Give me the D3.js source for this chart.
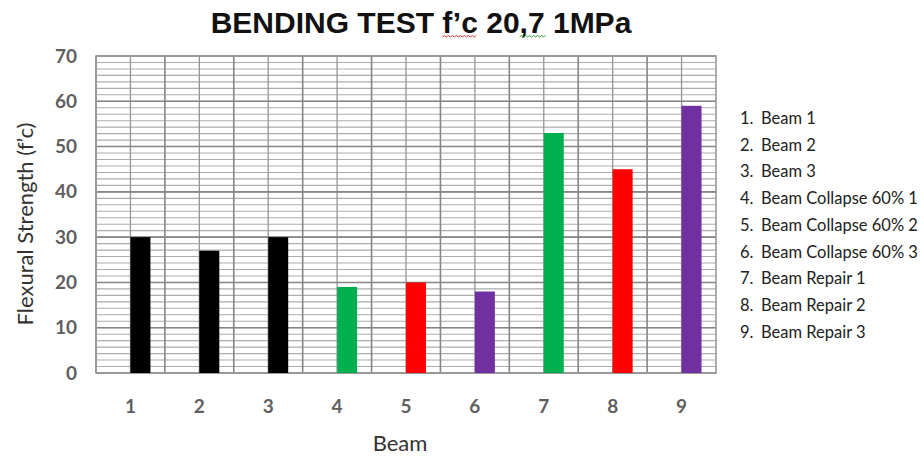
<!DOCTYPE html>
<html>
<head>
<meta charset="utf-8">
<script src="https://cdn.jsdelivr.net/npm/d3@7"></script>
<style>
  body { margin: 0; background: #fff; }
  svg { display: block; }
</style>
</head>
<body>
<svg id="chart" width="923" height="456"></svg>
<script>
// Beam numbers, flexural strength readings and bar colours
const beams = ["1", "2", "3", "4", "5", "6", "7", "8", "9"];
const strength = [30, 27, 30, 19, 20, 18, 53, 45, 59];
const barColors = ["#000000", "#000000", "#000000", "#00b050", "#ff0000", "#7030a0", "#00b050", "#ff0000", "#7030a0"];
const yTicks = [0, 10, 20, 30, 40, 50, 60, 70];
const legendItems = [
  "Beam 1", "Beam 2", "Beam 3",
  "Beam Collapse 60% 1", "Beam Collapse 60% 2", "Beam Collapse 60% 3",
  "Beam Repair 1", "Beam Repair 2", "Beam Repair 3"
];

const svg = d3.select("#chart");
const plot = { left: 96, right: 716, top: 56, bottom: 373 };

const x = d3.scaleBand().domain(beams).range([plot.left, plot.right]).padding(0);
const y = d3.scaleLinear().domain([0, 70]).range([plot.bottom, plot.top]);

// Minor horizontal grid (7 steps per major division)
const minor = d3.range(0, 70.0001, 10 / 7);
svg.append("g").selectAll("line").data(minor).join("line")
  .attr("x1", plot.left).attr("x2", plot.right)
  .attr("y1", d => y(d)).attr("y2", d => y(d))
  .attr("stroke", "#acacac").attr("stroke-width", 1.1);

// Vertical grid: category centres and category boundaries
svg.append("g").selectAll("line").data(beams).join("line")
  .attr("x1", d => x(d) + x.bandwidth() / 2).attr("x2", d => x(d) + x.bandwidth() / 2)
  .attr("y1", plot.top).attr("y2", plot.bottom)
  .attr("stroke", "#949494").attr("stroke-width", 1.3);
svg.append("g").selectAll("line").data(beams).join("line")
  .attr("x1", d => x(d)).attr("x2", d => x(d))
  .attr("y1", plot.top).attr("y2", plot.bottom)
  .attr("stroke", "#858585").attr("stroke-width", 1.6);

// Major horizontal grid
svg.append("g").selectAll("line").data(yTicks).join("line")
  .attr("x1", plot.left).attr("x2", plot.right)
  .attr("y1", d => y(d)).attr("y2", d => y(d))
  .attr("stroke", "#858585").attr("stroke-width", 1.6);

// Plot frame
svg.append("rect")
  .attr("x", plot.left).attr("y", plot.top)
  .attr("width", plot.right - plot.left).attr("height", plot.bottom - plot.top)
  .attr("fill", "none").attr("stroke", "#999").attr("stroke-width", 1.6);

// Bars
const barW = x.bandwidth() * 0.29;
svg.append("g").selectAll("rect").data(beams).join("rect")
  .attr("x", d => x(d) + x.bandwidth() / 2)
  .attr("y", (d, i) => y(strength[i]))
  .attr("width", barW)
  .attr("height", (d, i) => y(0) - y(strength[i]))
  .attr("fill", (d, i) => barColors[i]);

// Y axis
const yAxis = svg.append("g")
  .attr("transform", `translate(${plot.left - 19},0)`)
  .call(d3.axisLeft(y).tickValues(yTicks).tickSize(0).tickPadding(0));
yAxis.select(".domain").remove();
yAxis.selectAll("text")
  .attr("font-family", "Lato, 'Open Sans', sans-serif")
  .attr("font-size", 19).attr("font-weight", 700).attr("fill", "#5f5f5f");

// X axis
const xAxis = svg.append("g")
  .attr("transform", `translate(0,${plot.bottom + 26})`)
  .call(d3.axisBottom(x).tickSize(0).tickPadding(0));
xAxis.select(".domain").remove();
xAxis.selectAll("text")
  .attr("font-family", "Lato, 'Open Sans', sans-serif")
  .attr("font-size", 19).attr("font-weight", 700).attr("fill", "#5f5f5f");

// Squiggle helper for underlined words
function squiggle(x0, x1, yy, color) {
  let p = `M${x0},${yy}`;
  let up = true;
  for (let xx = x0 + 2; xx <= x1; xx += 2) {
    p += `L${xx},${yy + (up ? -1.5 : 0)}`;
    up = !up;
  }
  svg.append("path").attr("d", p).attr("fill", "none")
    .attr("stroke", color).attr("stroke-width", 1);
}

// Title
const titleText = "BENDING TEST f\u2019c 20,7 1MPa";
const title = svg.append("text")
  .attr("x", 421).attr("y", 33)
  .attr("text-anchor", "middle")
  .attr("font-family", "'Liberation Sans', Arial, sans-serif")
  .attr("font-size", 30).attr("font-weight", 700).attr("fill", "#111")
  .text(titleText);
{
  const node = title.node();
  const bb = node.getBBox();
  const i1 = titleText.indexOf("f\u2019c");
  const a = node.getSubStringLength(0, i1);
  const b = node.getSubStringLength(i1, 3);
  squiggle(bb.x + a, bb.x + a + b, 37, "#e03030");
  const i2 = titleText.indexOf(",7");
  const c = node.getSubStringLength(0, i2);
  const dlen = node.getSubStringLength(i2, 2);
  squiggle(bb.x + c, bb.x + c + dlen + 2, 37, "#3aa03a");
}

// Y axis title
svg.append("text")
  .attr("transform", `translate(33,224) rotate(-90)`)
  .attr("text-anchor", "middle")
  .attr("font-family", "Lato, 'Open Sans', sans-serif")
  .attr("font-size", 22).attr("fill", "#333")
  .text("Flexural Strength (f\u2019c)");

// X axis title
svg.append("text")
  .attr("x", 400).attr("y", 451)
  .attr("text-anchor", "middle")
  .attr("font-family", "Lato, 'Open Sans', sans-serif")
  .attr("font-size", 22).attr("fill", "#333")
  .text("Beam");

// Numbered list beside the chart
const legend = svg.append("g")
  .attr("font-family", "Lato, 'Open Sans', sans-serif")
  .attr("font-size", 16.5).attr("fill", "#222");
legend.selectAll("text.num").data(legendItems).join("text")
  .attr("class", "num")
  .attr("x", 740).attr("y", (d, i) => 124 + i * 26.7)
  .text((d, i) => `${i + 1}.`);
legend.selectAll("text.lbl").data(legendItems).join("text")
  .attr("class", "lbl")
  .attr("x", 761).attr("y", (d, i) => 124 + i * 26.7)
  .text(d => d);
</script>
</body>
</html>
